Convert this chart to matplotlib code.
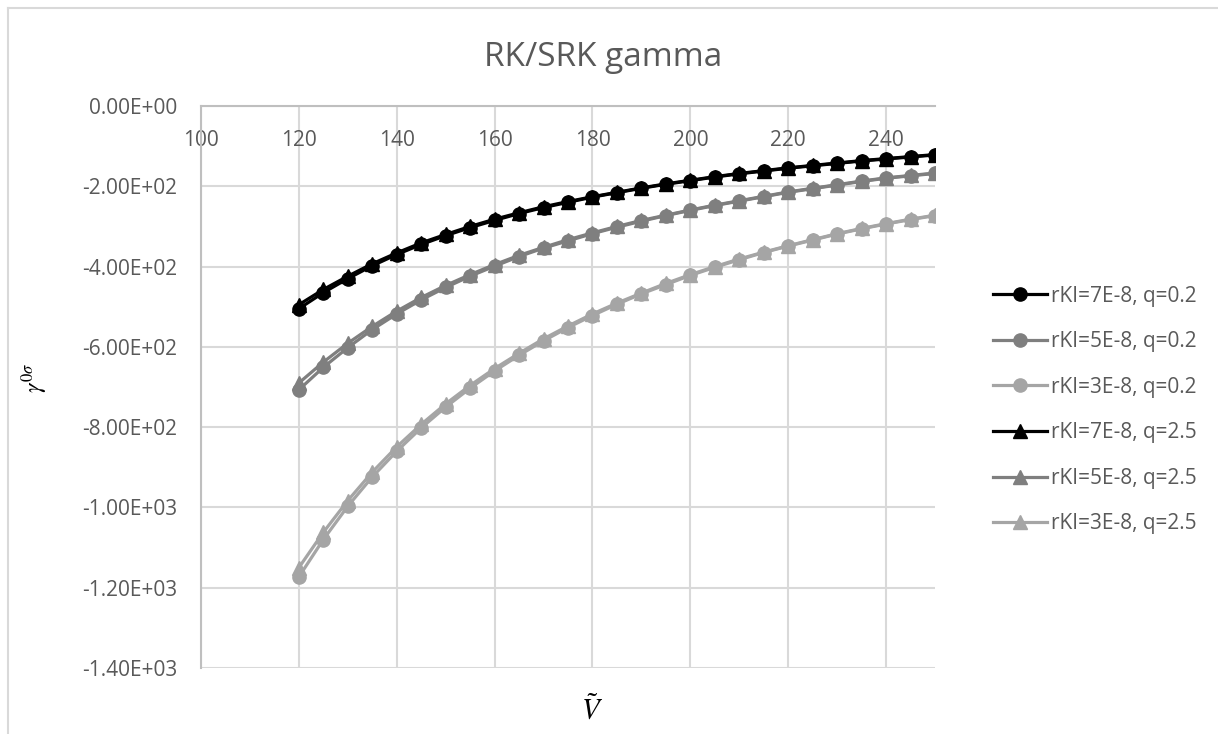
import matplotlib
matplotlib.use("Agg")
import matplotlib.pyplot as plt
from matplotlib.ticker import FuncFormatter, MultipleLocator
from matplotlib.lines import Line2D

# Reduced volume values
v_tilde = [120, 125, 130, 135, 140, 145, 150, 155, 160, 165, 170, 175, 180, 185,
           190, 195, 200, 205, 210, 215, 220, 225, 230, 235, 240, 245, 250]

# gamma for q = 0.2
g_7e8_q02 = [-505, -465, -430, -398, -370, -345, -323, -303, -285, -268, -253, -240, -227, -216,
             -205, -195, -186, -177, -169, -162, -155, -149, -143, -137, -132, -127, -122]
g_5e8_q02 = [-707, -651, -602, -557, -518, -483, -452, -424, -399, -375, -354, -336, -318, -302,
             -287, -273, -260, -248, -237, -226, -215, -206, -197, -188, -180, -174, -168]
g_3e8_q02 = [-1173, -1080, -997, -924, -860, -802, -750, -703, -660, -621, -585, -552, -522, -494,
             -468, -445, -422, -402, -383, -365, -349, -334, -319, -306, -294, -283, -273]

# gamma for q = 2.5
g_7e8_q25 = [-495, -457, -424, -393, -366, -341, -320, -300, -282, -266, -251, -238, -226, -215,
             -204, -194, -185, -176, -168, -161, -154, -148, -142, -136, -131, -126, -121]
g_5e8_q25 = [-690, -638, -591, -549, -511, -477, -447, -420, -395, -372, -352, -333, -316, -300,
             -285, -272, -259, -247, -236, -225, -214, -205, -196, -187, -179, -173, -167]
g_3e8_q25 = [-1150, -1062, -983, -912, -849, -793, -742, -696, -654, -616, -580, -548, -518, -491,
             -466, -442, -420, -400, -381, -364, -348, -333, -318, -305, -293, -282, -272]

series_labels = ["rKI=7E-8, q=0.2", "rKI=5E-8, q=0.2", "rKI=3E-8, q=0.2",
                 "rKI=7E-8, q=2.5", "rKI=5E-8, q=2.5", "rKI=3E-8, q=2.5"]
series_values = [g_7e8_q02, g_5e8_q02, g_3e8_q02, g_7e8_q25, g_5e8_q25, g_3e8_q25]
series_colors = ["#000000", "#7f7f7f", "#a5a5a5", "#000000", "#7f7f7f", "#a5a5a5"]
series_markers = ["o", "o", "o", "^", "^", "^"]

plt.rcParams["font.family"] = ["Open Sans", "DejaVu Sans"]
plt.rcParams["mathtext.fontset"] = "stix"

W, H = 1218, 734
fig = plt.figure(figsize=(W / 100, H / 100), dpi=100)
ax = fig.add_axes([201 / W, 1 - 668 / H, (935 - 201) / W, (668 - 106) / H])

for vals, lab, col, mk in zip(series_values, series_labels, series_colors, series_markers):
    ax.plot(v_tilde, vals, color=col, lw=2.3, marker=mk,
            markersize=9.5 if mk == "o" else 10, label=lab, solid_joinstyle="round")

ax.set_xlim(100, 250)
ax.set_ylim(-1400, 0)
ax.xaxis.set_major_locator(MultipleLocator(20))
ax.yaxis.set_major_locator(MultipleLocator(200))
ax.yaxis.set_major_formatter(FuncFormatter(lambda v, p: f"{v:.2E}"))

grid_col = "#d9d9d9"
ax.grid(True, color=grid_col, lw=1.5, zorder=0)
ax.set_axisbelow(True)

# horizontal axis crosses at zero (top of the plot)
ax.spines["bottom"].set_position(("data", 0))
ax.spines["bottom"].set_color("#bfbfbf")
ax.spines["bottom"].set_linewidth(1.5)
ax.spines["left"].set_color("#bfbfbf")
ax.spines["left"].set_linewidth(1.5)
ax.spines["top"].set_visible(False)
ax.spines["right"].set_visible(False)

ax.tick_params(axis="both", length=0, labelsize=15, labelcolor="#595959")
ax.tick_params(axis="x", pad=17)
ax.tick_params(axis="y", pad=17)

fig.text(603 / W, 1 - 57 / H, "RK/SRK gamma", ha="center", va="center",
         fontsize=24, color="#595959")
fig.text(592 / W, 1 - 711 / H, r"$\tilde{V}$", ha="center", va="center",
         fontsize=21, color="#000000")
fig.text(35 / W, 1 - 378 / H, r"$\gamma^{0\sigma}$", ha="center", va="center",
         fontsize=17, color="#000000", rotation=90)

ax.legend(loc="center left", bbox_to_anchor=(993 / W, 1 - 410 / H),
          bbox_transform=fig.transFigure, frameon=False, fontsize=15,
          labelcolor="#595959", handlelength=2.6, handletextpad=0.2,
          labelspacing=1.18, borderpad=0, borderaxespad=0)

# chart border
fig.add_artist(Line2D([7.5 / W, 7.5 / W], [0, 1 - 7.5 / H], transform=fig.transFigure,
                      color=grid_col, lw=1.5))
fig.add_artist(Line2D([7.5 / W, 1], [1 - 7.5 / H, 1 - 7.5 / H], transform=fig.transFigure,
                      color=grid_col, lw=1.5))

fig.savefig("out.png", dpi=100)
